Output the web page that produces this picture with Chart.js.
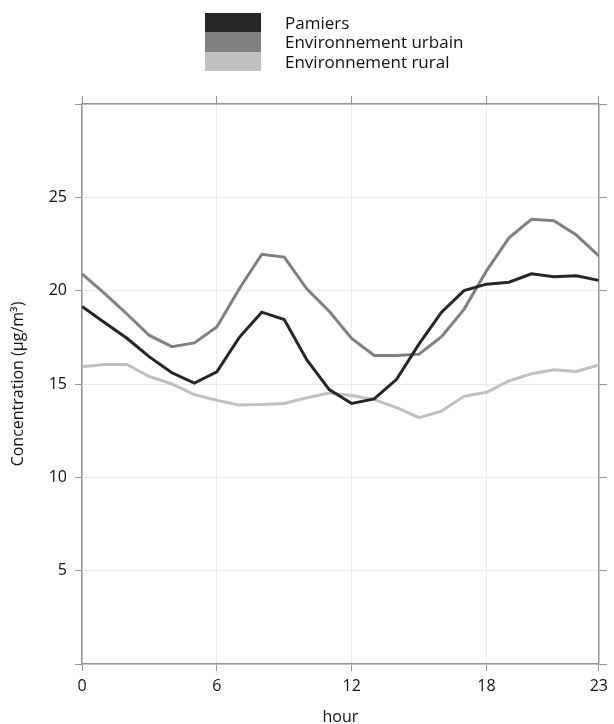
<!DOCTYPE html>
<html>
<head>
<meta charset="utf-8">
<script src="https://cdn.jsdelivr.net/npm/chart.js@4/dist/chart.umd.min.js"></script>
<style>
  html, body { margin: 0; padding: 0; background: #fff; }
  #wrap { position: relative; width: 614px; height: 724px; }
  #chart { position: absolute; left: 0; top: 0; }
  #legend { position: absolute; left: 205px; top: 13px; font-family: "Open Sans", sans-serif; font-size: 17px; color: #111; }
  .row { display: flex; align-items: center; height: 19.3px; }
  .swatch { width: 56px; height: 19.3px; }
  .lbl { margin-left: 24px; line-height: 19.3px; white-space: nowrap; }
</style>
</head>
<body>
<div id="wrap">
  <canvas id="chart" width="614" height="724"></canvas>
  <div id="legend"></div>
</div>
<script>
// Hours of the day
const hours = [0, 1, 2, 3, 4, 5, 6, 7, 8, 9, 10, 11, 12, 13, 14, 15, 16, 17, 18, 19, 20, 21, 22, 23];

// Mean hourly concentrations (µg/m³)
const pamiers = [19.15, 18.3, 17.45, 16.45, 15.6, 15.05, 15.65, 17.5, 18.85, 18.45, 16.3, 14.7,
                 13.96, 14.2, 15.25, 17.15, 18.85, 20.0, 20.35, 20.45, 20.9, 20.75, 20.8, 20.55];
const urbain  = [20.9, 19.85, 18.75, 17.6, 17.0, 17.2, 18.05, 20.1, 21.95, 21.8, 20.1, 18.9,
                 17.44, 16.53, 16.53, 16.6, 17.54, 19.0, 21.06, 22.83, 23.82, 23.75, 22.98, 21.86];
const rural   = [15.93, 16.05, 16.05, 15.4, 15.0, 14.43, 14.13, 13.87, 13.9, 13.96, 14.26, 14.52,
                 14.38, 14.17, 13.73, 13.2, 13.55, 14.34, 14.56, 15.17, 15.55, 15.76, 15.67, 16.02];

const seriesNames = ["Pamiers", "Environnement urbain", "Environnement rural"];
const xTickValues = [0, 6, 12, 18, 23];
const yTickStep = 5;

const FONT = "'Open Sans', sans-serif";
const TEXT = '#111';
const AXIS = '#959595';
const GRID = '#ebebeb';

const toPoints = arr => arr.map((v, i) => ({ x: hours[i], y: v }));

const lineStyle = (label, data, color) => ({
  label, data: toPoints(data), borderColor: color, backgroundColor: color,
  borderWidth: 3, pointRadius: 0, tension: 0, fill: false
});

const fixedTicks = scale => { scale.ticks = xTickValues.map(v => ({ value: v })); };

const chart = new Chart(document.getElementById('chart'), {
  type: 'line',
  data: {
    datasets: [
      lineStyle(seriesNames[0], pamiers, '#262626'),
      lineStyle(seriesNames[1], urbain, '#808080'),
      lineStyle(seriesNames[2], rural, '#c0c0c0')
    ]
  },
  options: {
    responsive: false,
    animation: false,
    layout: { padding: 0 },
    plugins: { legend: { display: false }, tooltip: { enabled: false } },
    scales: {
      x: {
        type: 'linear', position: 'bottom', min: 0, max: 23,
        afterBuildTicks: fixedTicks,
        afterFit: s => { s.height = 60; },
        grid: { color: GRID, tickColor: AXIS, tickLength: 7, lineWidth: 1 },
        border: { color: AXIS, width: 1.5 },
        ticks: { font: { family: FONT, size: 16 }, color: TEXT, padding: 6, maxRotation: 0 },
        title: { display: true, text: 'hour', font: { family: FONT, size: 16, lineHeight: 0.8 },
                 color: TEXT, padding: { top: 0, bottom: 0 } }
      },
      x2: {
        type: 'linear', position: 'top', min: 0, max: 23,
        afterBuildTicks: fixedTicks,
        afterFit: s => { s.height = 104; },
        grid: { drawOnChartArea: false, tickColor: AXIS, tickLength: 8 },
        border: { color: AXIS, width: 1.5 },
        ticks: { display: false }
      },
      y: {
        position: 'left', min: 0, max: 30,
        afterFit: s => { s.width = 82; },
        grid: { color: GRID, tickColor: AXIS, tickLength: 7 },
        border: { color: AXIS, width: 1.5 },
        ticks: { stepSize: yTickStep, font: { family: FONT, size: 16 }, color: TEXT, padding: 8,
                 callback: v => (v === 0 || v === 30) ? '' : v },
        title: { display: true, text: 'Concentration (µg/m³)', font: { family: FONT, size: 16 },
                 color: TEXT, padding: { top: 9, bottom: 0 } }
      },
      y2: {
        position: 'right', min: 0, max: 30,
        afterFit: s => { s.width = 13; },
        grid: { drawOnChartArea: false, tickColor: AXIS, tickLength: 8 },
        border: { color: AXIS, width: 1.5 },
        ticks: { stepSize: yTickStep, display: false }
      }
    }
  }
});

// Legend built from the chart's datasets: stacked colour blocks with labels
const legend = document.getElementById('legend');
chart.data.datasets.forEach(ds => {
  const row = document.createElement('div');
  row.className = 'row';
  const sw = document.createElement('div');
  sw.className = 'swatch';
  sw.style.background = ds.borderColor;
  const lbl = document.createElement('div');
  lbl.className = 'lbl';
  lbl.textContent = ds.label;
  row.appendChild(sw);
  row.appendChild(lbl);
  legend.appendChild(row);
});
</script>
</body>
</html>
